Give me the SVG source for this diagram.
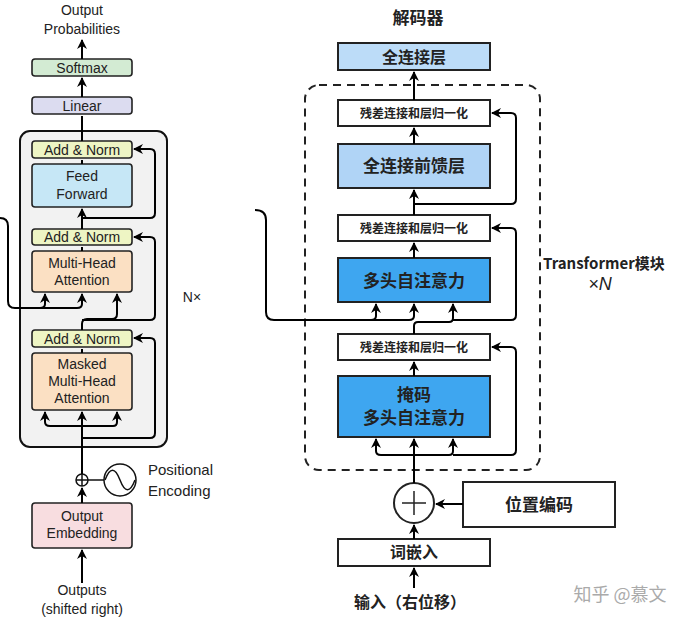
<svg xmlns="http://www.w3.org/2000/svg" width="692" height="621" viewBox="0 0 692 621">
<defs>
<marker id="a" viewBox="0 0 10 10" refX="9" refY="5" markerWidth="5" markerHeight="5" orient="auto"><path d="M0,0L10,5L0,10L3,5z" fill="#000"/></marker>
<style>
.l{fill:none;stroke:#000;stroke-width:2}
.lb{stroke:#222;stroke-width:1.6;rx:3}
.t{font-family:"Liberation Sans",Arial,sans-serif;font-size:14px;fill:#222;text-anchor:middle}
.rb{stroke:#222;stroke-width:2}
.c{font-family:"Noto Sans CJK SC",sans-serif;font-weight:bold;fill:#222;text-anchor:middle}
</style>
</defs>
<rect width="692" height="621" fill="#fff"/>
<g id="left">
<rect x="20" y="131" width="147" height="316" rx="10" fill="#f2f2f2" stroke="#111" stroke-width="2"/>
<text class="t" x="82" y="15">Output</text><text class="t" x="82" y="34">Probabilities</text>
<rect class="lb" x="32" y="59" width="100" height="17" fill="#d3ebd3"/><text class="t" x="82" y="73">Softmax</text>
<rect class="lb" x="32" y="97" width="100" height="17" fill="#dcdcf0"/><text class="t" x="82" y="111">Linear</text>
<rect class="lb" x="32" y="141" width="100" height="17" fill="#eef5c4"/><text class="t" x="82" y="155">Add &amp; Norm</text>
<rect class="lb" x="32" y="164" width="100" height="43" fill="#c6e7f6"/><text class="t" x="82" y="181">Feed</text><text class="t" x="82" y="199">Forward</text>
<rect class="lb" x="32" y="229" width="100" height="16" fill="#eef5c4"/><text class="t" x="82" y="242">Add &amp; Norm</text>
<rect class="lb" x="32" y="251" width="100" height="41" fill="#fbe0c3"/><text class="t" x="82" y="268">Multi-Head</text><text class="t" x="82" y="285">Attention</text>
<rect class="lb" x="32" y="330" width="100" height="17" fill="#eef5c4"/><text class="t" x="82" y="344">Add &amp; Norm</text>
<rect class="lb" x="32" y="353" width="100" height="57" fill="#fbe0c3"/><text class="t" x="82" y="369">Masked</text><text class="t" x="82" y="386">Multi-Head</text><text class="t" x="82" y="403">Attention</text>
<rect class="lb" x="32" y="503" width="100" height="45" fill="#f8dde0"/><text class="t" x="82" y="521">Output</text><text class="t" x="82" y="538">Embedding</text>
<text class="t" x="82" y="595">Outputs</text><text class="t" x="82" y="614">(shifted right)</text>
<text class="t" x="192" y="302">N×</text>
<circle cx="82" cy="480" r="6" fill="#fff" stroke="#111" stroke-width="1.5"/><path d="M76,480H88M82,474V486" stroke="#111" stroke-width="1.5"/>
<circle cx="120" cy="480" r="16" fill="#fff" stroke="#111" stroke-width="1.5"/>
<path d="M105,480C110,467 115,467 120,480S130,493 135,480" fill="none" stroke="#111" stroke-width="1.5"/>
<path d="M88,480H104" stroke="#111" stroke-width="1.5"/>
<text class="t" x="148" y="475" style="text-anchor:start;font-size:15px">Positional</text>
<text class="t" x="148" y="496" style="text-anchor:start;font-size:15px">Encoding</text>
</g>
<g id="right">
<text class="c" x="418" y="24" font-size="17">解码器</text>
<rect x="305" y="85" width="235" height="385" rx="14" fill="none" stroke="#222" stroke-width="2" stroke-dasharray="8,6"/>
<rect class="rb" x="338" y="43" width="152" height="27" fill="#bcdcf8"/><text class="c" x="414" y="63" font-size="16">全连接层</text>
<rect class="rb" x="338" y="100" width="152" height="26" fill="#fff"/><text class="c" x="414" y="118" font-size="12">残差连接和层归一化</text>
<rect class="rb" x="338" y="144" width="152" height="44" fill="#b0d4f6"/><text class="c" x="414" y="172" font-size="17">全连接前馈层</text>
<rect class="rb" x="338" y="215" width="152" height="26" fill="#fff"/><text class="c" x="414" y="233" font-size="12">残差连接和层归一化</text>
<rect class="rb" x="338" y="258" width="152" height="44" fill="#3ea6f0"/><text class="c" x="414" y="287" font-size="17">多头自注意力</text>
<rect class="rb" x="338" y="334" width="152" height="26" fill="#fff"/><text class="c" x="414" y="352" font-size="12">残差连接和层归一化</text>
<rect class="rb" x="338" y="376" width="152" height="61" fill="#3ea6f0"/><text class="c" x="414" y="401" font-size="17">掩码</text><text class="c" x="414" y="424" font-size="17">多头自注意力</text>
<circle cx="414" cy="503" r="20" fill="#fff" stroke="#222" stroke-width="2"/><path d="M402,503H426M414,491V515" stroke="#222" stroke-width="1.5"/>
<rect class="rb" x="463" y="482" width="152" height="45" fill="#fff"/><text class="c" x="539" y="511" font-size="17">位置编码</text>
<rect class="rb" x="338" y="539" width="152" height="27" fill="#fff"/><text class="c" x="414" y="558" font-size="16">词嵌入</text>
<text class="c" x="410" y="608" font-size="16">输入（右位移）</text>
<text class="c" x="543" y="269" font-size="15" style="text-anchor:start">Transformer模块</text>
<text x="600" y="290" font-family="'Liberation Sans',sans-serif" font-size="18" font-style="italic" fill="#222" text-anchor="middle">×N</text>
<text x="620" y="601" font-family="'Noto Sans CJK SC',sans-serif" font-size="18" fill="#aaa" text-anchor="middle">知乎 @慕文</text>
</g>
<g id="connectors" class="l">
<path class="l" d="M82,59V40" marker-end="url(#a)"/>
<path class="l" d="M82,97V78" marker-end="url(#a)"/>
<path class="l" d="M82,141V116"/>
<path class="l" d="M82,164V160"/>
<path class="l" d="M82,229V209" marker-end="url(#a)"/>
<path class="l" d="M82,218H150Q155,218 155,213V154Q155,149 150,149H134" marker-end="url(#a)"/>
<path class="l" d="M82,251V247"/>
<path class="l" d="M82,330V324Q82,319 87,319H112Q117,319 117,314V294" marker-end="url(#a)"/>
<path class="l" d="M82,320H150Q155,320 155,315V242Q155,237 150,237H134" marker-end="url(#a)"/>
<path class="l" d="M0,218Q8,218 8,226V301Q8,308 15,308H40Q45,308 45,304V294" marker-end="url(#a)"/>
<path class="l" d="M40,308H77Q82,308 82,304V294" marker-end="url(#a)"/>
<path class="l" d="M82,353V349"/>
<path class="l" d="M82,474V412" marker-end="url(#a)"/>
<path class="l" d="M82,426H50Q45,426 45,422V412" marker-end="url(#a)"/>
<path class="l" d="M82,426H113Q117,426 117,422V412" marker-end="url(#a)"/>
<path class="l" d="M82,438H150Q155,438 155,433V343Q155,338 150,338H134" marker-end="url(#a)"/>
<path class="l" d="M82,503V488" marker-end="url(#a)"/>
<path class="l" d="M82,583V550" marker-end="url(#a)"/>
<path class="l" d="M414,100V72" marker-end="url(#a)"/>
<path class="l" d="M414,144V128" marker-end="url(#a)"/>
<path class="l" d="M414,215V190" marker-end="url(#a)"/>
<path class="l" d="M414,204H511Q516,204 516,199V118Q516,113 511,113H492" marker-end="url(#a)"/>
<path class="l" d="M414,258V243" marker-end="url(#a)"/>
<path class="l" d="M255,210Q266,210 266,220V312Q266,320 274,320H371Q376,320 376,316V304" marker-end="url(#a)"/>
<path class="l" d="M371,320H409Q414,320 414,316V304" marker-end="url(#a)"/>
<path class="l" d="M414,334V326Q414,322 418,322H449Q453,322 453,318V304" marker-end="url(#a)"/>
<path class="l" d="M453,320H511Q516,320 516,315V233Q516,228 511,228H492" marker-end="url(#a)"/>
<path class="l" d="M414,376V362" marker-end="url(#a)"/>
<path class="l" d="M414,483V439" marker-end="url(#a)"/>
<path class="l" d="M414,455H381Q376,455 376,451V439" marker-end="url(#a)"/>
<path class="l" d="M414,455H449Q453,455 453,451V439" marker-end="url(#a)"/>
<path class="l" d="M453,455H511Q516,455 516,450V352Q516,347 511,347H492" marker-end="url(#a)"/>
<path class="l" d="M463,504H436" marker-end="url(#a)"/>
<path class="l" d="M414,539V525" marker-end="url(#a)"/>
<path class="l" d="M414,588V568" marker-end="url(#a)"/>
</g>
</svg>
